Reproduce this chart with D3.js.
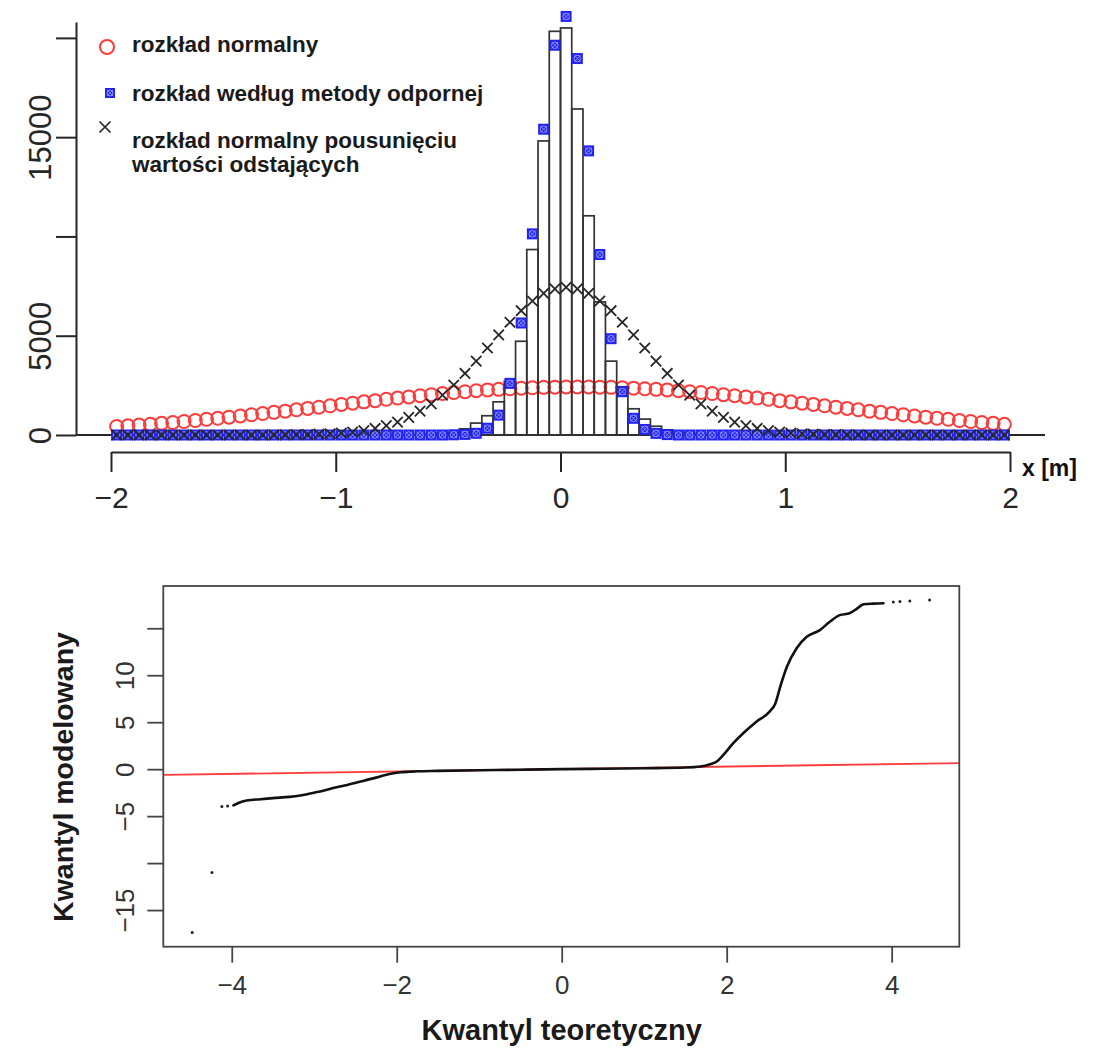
<!DOCTYPE html>
<html>
<head>
<meta charset="utf-8">
<script src="https://cdn.jsdelivr.net/npm/d3@7"></script>
<style>
  html, body { margin: 0; padding: 0; background: #fff; }
  svg { display: block; font-family: "Liberation Sans", Arial, Helvetica, sans-serif; }
</style>
</head>
<body>
<svg id="chart" width="1097" height="1049"></svg>
<script>
// ---------- Histogram of residuals x [m] with fitted densities ----------
// Bins are 0.05 m wide, starting at -2 m (80 bins).
const histStart = -2;
const histWidth = 0.05;
const histCounts = [
  0, 0, 0, 0, 0, 0, 0, 0, 0, 0,
  0, 0, 0, 0, 0, 0, 0, 0, 0, 0,
  0, 0, 0, 0, 0, 10, 10, 20, 30, 60,
  130, 310, 600, 970, 1670, 2700, 4720, 9340, 14810, 20330,
  20500, 16420, 11040, 6700, 3720, 2430, 1320, 800, 440, 260,
  130, 60, 30, 20, 10, 10, 0, 0, 0, 0,
  0, 0, 0, 0, 0, 0, 0, 0, 0, 0,
  0, 0, 0, 0, 0, 0, 0, 0, 0, 0
];

// Fitted curves, evaluated at the bin mid-points (-1.975 ... 1.975).
const normalFit = [
  430, 460, 500, 540, 590, 630, 680, 730, 790, 840,
  900, 960, 1020, 1080, 1140, 1200, 1270, 1340, 1400, 1470,
  1540, 1600, 1670, 1730, 1800, 1860, 1920, 1980, 2030, 2090,
  2140, 2180, 2230, 2270, 2300, 2330, 2360, 2380, 2400, 2410,
  2420, 2420, 2420, 2410, 2400, 2380, 2360, 2330, 2300, 2270,
  2230, 2180, 2140, 2090, 2030, 1980, 1920, 1860, 1800, 1730,
  1670, 1600, 1540, 1470, 1400, 1340, 1270, 1200, 1140, 1080,
  1020, 960, 900, 840, 790, 730, 680, 630, 590, 540
];
const robustFit = [
  0, 0, 0, 0, 0, 0, 0, 0, 0, 0,
  0, 0, 0, 0, 0, 0, 0, 0, 0, 0,
  0, 0, 0, 0, 0, 0, 0, 0, 0, 0,
  10, 30, 85, 340, 1000, 2600, 5640, 10130, 15400, 19630,
  21080, 18960, 14310, 9090, 4850, 2180, 840, 280, 80, 20,
  0, 0, 0, 0, 0, 0, 0, 0, 0, 0,
  0, 0, 0, 0, 0, 0, 0, 0, 0, 0,
  0, 0, 0, 0, 0, 0, 0, 0, 0, 0
];
const trimmedFit = [
  0, 0, 0, 0, 0, 0, 0, 0, 0, 0,
  0, 0, 0, 0, 10, 10, 20, 20, 40, 60,
  100, 150, 220, 330, 470, 650, 890, 1200, 1570, 2010,
  2520, 3100, 3720, 4380, 5040, 5680, 6260, 6750, 7130, 7360,
  7440, 7360, 7130, 6750, 6260, 5680, 5040, 4380, 3720, 3100,
  2520, 2010, 1570, 1200, 890, 650, 470, 330, 220, 150,
  100, 60, 40, 20, 20, 10, 10, 0, 0, 0,
  0, 0, 0, 0, 0, 0, 0, 0, 0, 0
];

const topXTicks = [-2, -1, 0, 1, 2];
const topYTicks = [0, 5000, 10000, 15000, 20000];
const topYLabels = [0, 5000, 15000];
const legendLabels = [
  ["rozkład normalny"],
  ["rozkład według metody odpornej"],
  ["rozkład normalny pousunięciu", "wartości odstających"]
];

// ---------- Normal Q-Q plot ----------
const qqT = [-3.98, -3.92, -3.82, -3.65, -3.5, -3.3, -3.17, -3.0, -2.88, -2.77,
  -2.6, -2.45, -2.36, -2.25, -2.15, -2.04, -1.95, -1.85, -1.75, -1.5,
  -1.0, -0.5, 0, 0.5, 1.0, 1.5, 1.68, 1.8, 1.88, 1.96,
  2.08, 2.2, 2.36, 2.52, 2.59, 2.65, 2.73, 2.85, 2.97, 3.13,
  3.25, 3.37, 3.49, 3.58, 3.66, 3.78, 3.9];
const qqQ = [-3.85, -3.6, -3.34, -3.2, -3.08, -2.95, -2.8, -2.5, -2.28, -2.0,
  -1.68, -1.35, -1.14, -0.9, -0.65, -0.43, -0.33, -0.27, -0.22, -0.18,
  -0.12, -0.06, 0, 0.05, 0.1, 0.17, 0.28, 0.53, 0.81, 1.52,
  2.77, 3.83, 5.06, 6.13, 7.0, 8.8, 10.9, 12.9, 14.1, 14.8,
  15.7, 16.4, 16.6, 17.1, 17.55, 17.62, 17.66];
const qqTailT = [-4.48, -4.24, -4.12, -4.05, 4.02, 4.1, 4.22, 4.46];
const qqTailQ = [-17.4, -11.0, -3.98, -3.92, 17.8, 17.85, 17.9, 18.0];
const qqRefLine = [0.02, 0.13];   // intercept, slope
const qqXTicks = [-4, -2, 0, 2, 4];
const qqYTicks = [-15, -10, -5, 0, 5, 10, 15];
const qqYLabels = [-15, -5, 0, 5, 10];

const svg = d3.select("#chart");
const ink = "#262626";
const red = "#ff3b3b";
const blue = "#2222f2";
const minus = d => String(d).replace("-", "\u2212");

// ================= upper panel =================
const xTop = d3.scaleLinear().domain([-2, 2]).range([111, 1010]);
const yTop = d3.scaleLinear().domain([0, 20800]).range([435, 22]);
const mids = d3.range(histCounts.length).map(i => histStart + histWidth * (i + 0.5));

const upper = svg.append("g");

// zero line
upper.append("line")
  .attr("x1", 76).attr("x2", 1045)
  .attr("y1", yTop(0)).attr("y2", yTop(0))
  .attr("stroke", ink).attr("stroke-width", 2);

// normal fit: open red circles
upper.append("g").selectAll("circle")
  .data(normalFit)
  .join("circle")
  .attr("cx", (d, i) => xTop(mids[i]))
  .attr("cy", d => yTop(d))
  .attr("r", 6.5)
  .attr("fill", "none")
  .attr("stroke", red)
  .attr("stroke-width", 2);

// histogram bars
upper.append("g").selectAll("rect")
  .data(histCounts.map((c, i) => ({ x0: histStart + histWidth * i, c })).filter(d => d.c > 0))
  .join("rect")
  .attr("x", d => xTop(d.x0))
  .attr("width", d => xTop(d.x0 + histWidth) - xTop(d.x0))
  .attr("y", d => yTop(d.c))
  .attr("height", d => yTop(0) - yTop(d.c))
  .attr("fill", "none")
  .attr("stroke", "#333")
  .attr("stroke-width", 1.7);

// robust fit: filled squares with crossed circle
function boxMark(g, s) {
  g.append("rect").attr("x", -s / 2).attr("y", -s / 2).attr("width", s).attr("height", s)
    .attr("fill", blue);
  g.append("circle").attr("r", s * 0.3).attr("fill", "none")
    .attr("stroke", "#9aa0ff").attr("stroke-width", 0.9);
  g.append("path").attr("d", `M${-s * 0.3},${-s * 0.3}L${s * 0.3},${s * 0.3}M${-s * 0.3},${s * 0.3}L${s * 0.3},${-s * 0.3}`)
    .attr("stroke", "#9aa0ff").attr("stroke-width", 0.8);
}
upper.append("g").selectAll("g")
  .data(robustFit)
  .join("g")
  .attr("transform", (d, i) => `translate(${xTop(mids[i])},${yTop(d)})`)
  .each(function () { boxMark(d3.select(this), 11); });

// trimmed normal fit: black crosses
const crossPath = h => `M${-h},${-h}L${h},${h}M${-h},${h}L${h},${-h}`;
upper.append("g").selectAll("path")
  .data(trimmedFit)
  .join("path")
  .attr("transform", (d, i) => `translate(${xTop(mids[i])},${yTop(d)})`)
  .attr("d", crossPath(5.2))
  .attr("stroke", ink)
  .attr("stroke-width", 1.8)
  .attr("fill", "none");

// y axis
const yAxisTop = upper.append("g")
  .attr("transform", "translate(76,0)")
  .call(d3.axisLeft(yTop).tickValues(topYTicks).tickSize(20).tickSizeOuter(0)
    .tickFormat(d => topYLabels.includes(d) ? String(d) : ""));
yAxisTop.select(".domain").attr("stroke", ink).attr("stroke-width", 2);
yAxisTop.selectAll(".tick line").attr("stroke", ink).attr("stroke-width", 2);
yAxisTop.selectAll(".tick text")
  .attr("x", null).attr("dy", null)
  .attr("text-anchor", "middle")
  .attr("transform", "translate(-25,0) rotate(-90)")
  .attr("font-size", 31)
  .attr("fill", ink);

// x axis (offset below the data)
const xAxisTop = upper.append("g")
  .attr("transform", "translate(0,452)")
  .call(d3.axisBottom(xTop).tickValues(topXTicks).tickSize(20).tickSizeOuter(0).tickPadding(15)
    .tickFormat(minus));
xAxisTop.select(".domain").attr("stroke", ink).attr("stroke-width", 2);
xAxisTop.selectAll(".tick line").attr("stroke", ink).attr("stroke-width", 2);
xAxisTop.selectAll(".tick text").attr("font-size", 30).attr("fill", ink);

upper.append("text")
  .attr("x", 1022).attr("y", 476)
  .attr("font-size", 23).attr("font-weight", "bold").attr("fill", "#111")
  .text("x [m]");

// legend
const legend = upper.append("g");
legend.append("circle").attr("cx", 107).attr("cy", 47).attr("r", 7)
  .attr("fill", "none").attr("stroke", red).attr("stroke-width", 2);
boxMark(legend.append("g").attr("transform", "translate(110,93)"), 10);
legend.append("path").attr("transform", "translate(105,127)").attr("d", crossPath(5.5))
  .attr("stroke", ink).attr("stroke-width", 1.7);
const legendY = [[52], [101], [148, 172]];
legendLabels.forEach((lines, k) => {
  lines.forEach((t, j) => {
    legend.append("text")
      .attr("x", 132).attr("y", legendY[k][j])
      .attr("font-size", 22.5).attr("font-weight", "bold").attr("fill", "#1a1a1a")
      .text(t);
  });
});

// ================= lower panel =================
const xQQ = d3.scaleLinear().domain([-4.83, 4.82]).range([163.3, 959.3]);
const yQQ = d3.scaleLinear().domain([-18.9, 19.5]).range([946.7, 586]);

const lower = svg.append("g");

// reference line
lower.append("line")
  .attr("x1", xQQ(-4.83)).attr("x2", xQQ(4.82))
  .attr("y1", yQQ(qqRefLine[0] + qqRefLine[1] * -4.83))
  .attr("y2", yQQ(qqRefLine[0] + qqRefLine[1] * 4.82))
  .attr("stroke", red).attr("stroke-width", 1.8);

// sample quantiles
lower.append("path")
  .datum(qqT.map((t, i) => [t, qqQ[i]]))
  .attr("d", d3.line().x(d => xQQ(d[0])).y(d => yQQ(d[1])).curve(d3.curveMonotoneX))
  .attr("fill", "none").attr("stroke", "#111").attr("stroke-width", 2.6)
  .attr("stroke-linecap", "round");
lower.append("g").selectAll("circle")
  .data(qqTailT.map((t, i) => [t, qqTailQ[i]]))
  .join("circle")
  .attr("cx", d => xQQ(d[0])).attr("cy", d => yQQ(d[1]))
  .attr("r", 1.5).attr("fill", "#222");

// frame
lower.append("rect")
  .attr("x", 163.3).attr("y", 586).attr("width", 959.3 - 163.3).attr("height", 946.7 - 586)
  .attr("fill", "none").attr("stroke", "#444").attr("stroke-width", 1.8);

const yAxisQQ = lower.append("g")
  .attr("transform", "translate(163.3,0)")
  .call(d3.axisLeft(yQQ).tickValues(qqYTicks).tickSize(16).tickSizeOuter(0)
    .tickFormat(d => qqYLabels.includes(d) ? minus(d) : ""));
yAxisQQ.select(".domain").remove();
yAxisQQ.selectAll(".tick line").attr("stroke", "#444").attr("stroke-width", 1.8);
yAxisQQ.selectAll(".tick text")
  .attr("x", null).attr("dy", null)
  .attr("text-anchor", "middle")
  .attr("transform", "translate(-29,0) rotate(-90)")
  .attr("font-size", 26)
  .attr("fill", "#333");

const xAxisQQ = lower.append("g")
  .attr("transform", "translate(0,946.7)")
  .call(d3.axisBottom(xQQ).tickValues(qqXTicks).tickSize(16).tickSizeOuter(0).tickPadding(13)
    .tickFormat(minus));
xAxisQQ.select(".domain").remove();
xAxisQQ.selectAll(".tick line").attr("stroke", "#444").attr("stroke-width", 1.8);
xAxisQQ.selectAll(".tick text").attr("font-size", 26).attr("fill", "#333");

lower.append("text")
  .attr("x", xQQ(0)).attr("y", 1040)
  .attr("text-anchor", "middle")
  .attr("font-size", 29).attr("font-weight", "bold").attr("fill", "#1a1a1a")
  .text("Kwantyl teoretyczny");
lower.append("text")
  .attr("transform", "translate(73,777) rotate(-90)")
  .attr("text-anchor", "middle")
  .attr("font-size", 28.5).attr("font-weight", "bold").attr("fill", "#1a1a1a")
  .text("Kwantyl modelowany");
</script>
</body>
</html>
